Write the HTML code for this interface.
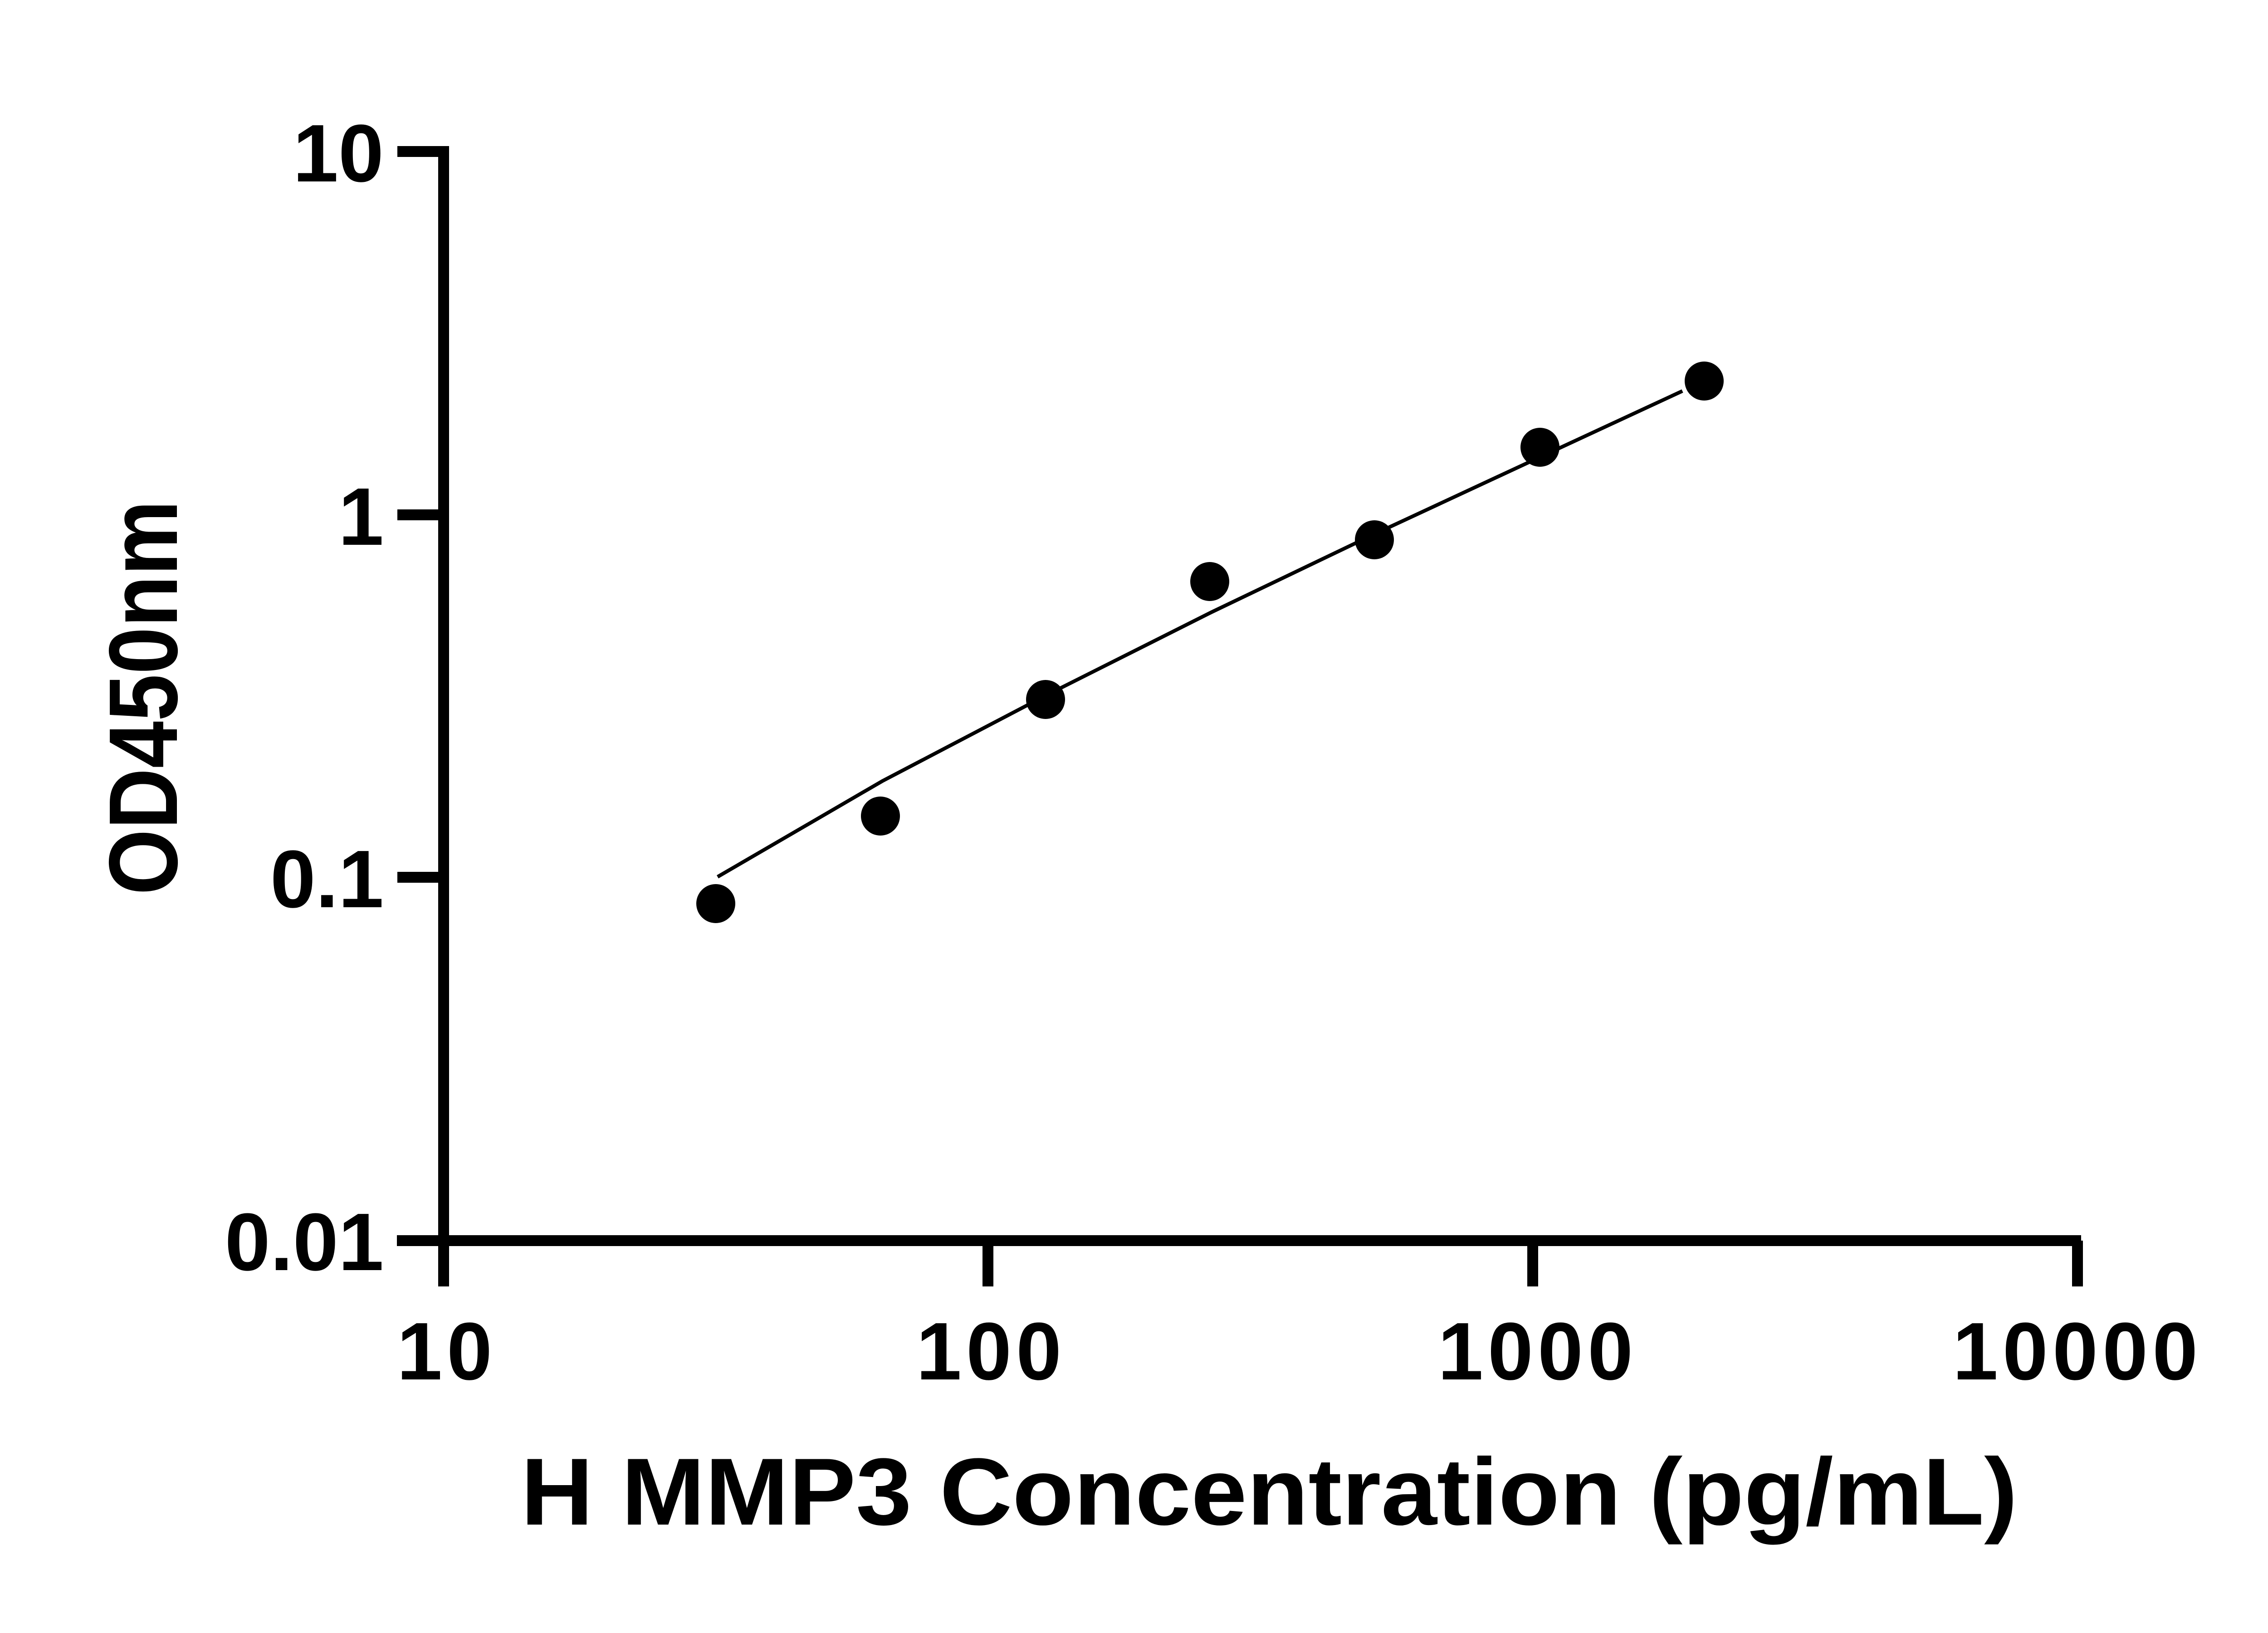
<!DOCTYPE html>
<html><head><style>html,body{margin:0;padding:0;background:#fff}svg{display:block}</style></head>
<body>
<svg width="5130" height="3600" viewBox="0 0 5130 3600" xmlns="http://www.w3.org/2000/svg">
<rect width="5130" height="3600" fill="#fff"/>
<g stroke="#000" stroke-width="24" fill="none">
<line x1="978" y1="322" x2="978" y2="2836"/>
<line x1="875" y1="2735" x2="4588" y2="2735"/>
<line x1="876" y1="334" x2="978" y2="334"/>
<line x1="876" y1="1135" x2="978" y2="1135"/>
<line x1="876" y1="1934" x2="978" y2="1934"/>
<line x1="2178" y1="2735" x2="2178" y2="2836"/>
<line x1="3379" y1="2735" x2="3379" y2="2836"/>
<line x1="4580" y1="2735" x2="4580" y2="2836"/>
</g>
<polyline points="1582,1933 1945,1722 2308,1532 2670,1350 3031,1177 3390,1010 3709,862" fill="none" stroke="#000" stroke-width="8"/>
<g fill="#000">
<circle cx="1578" cy="1992" r="43"/>
<circle cx="1941" cy="1799" r="43"/>
<circle cx="2305" cy="1542" r="43"/>
<circle cx="2667" cy="1282" r="43"/>
<circle cx="3030" cy="1190" r="43"/>
<circle cx="3395" cy="986" r="43"/>
<circle cx="3757" cy="840" r="43"/>
</g>
<g font-family="Liberation Sans, sans-serif" font-weight="bold" fill="#000" font-size="180">
<text x="846" y="400" text-anchor="end">10</text>
<text x="846" y="1201" text-anchor="end">1</text>
<text x="846" y="2000" text-anchor="end">0.1</text>
<text x="846" y="2800" text-anchor="end">0.01</text>
<text x="985" y="3041" text-anchor="middle" letter-spacing="10">10</text>
<text x="2185" y="3041" text-anchor="middle" letter-spacing="10">100</text>
<text x="3390" y="3041" text-anchor="middle" letter-spacing="10">1000</text>
<text x="4580" y="3041" text-anchor="middle" letter-spacing="10">10000</text>
<text x="1148" y="3361" font-size="210" textLength="3300" lengthAdjust="spacingAndGlyphs">H MMP3 Concentration (pg/mL)</text>
<text transform="translate(390,1973) rotate(-90)" font-size="215" textLength="870" lengthAdjust="spacingAndGlyphs">OD450nm</text>
</g>
</svg>
</body></html>
